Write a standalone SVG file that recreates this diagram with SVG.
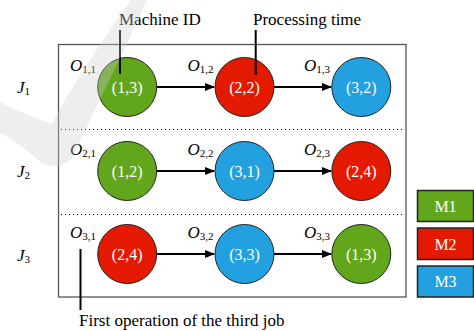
<svg xmlns="http://www.w3.org/2000/svg" width="474" height="331" viewBox="0 0 474 331">
<defs>
<marker id="ah" markerWidth="10" markerHeight="8" refX="9" refY="4" orient="auto" markerUnits="userSpaceOnUse">
<path d="M0,0 L10,4 L0,8 Z" fill="#000"/>
</marker>
</defs>
<style>
text{font-family:"Liberation Serif",Tinos,"DejaVu Serif",serif;}
.lbl{font-size:17px;fill:#000;}
.ct{font-size:16px;fill:#fff;text-anchor:middle;}
.it{font-style:italic;font-size:17px;fill:#000;}
.sub{font-style:normal;font-size:11px;}
.g{fill:#62a71b;stroke:#222;stroke-width:1;}
.r{fill:#e41a00;stroke:#222;stroke-width:1;}
.b{fill:#22a0e0;stroke:#222;stroke-width:1;}
.arr{stroke:#000;stroke-width:2;fill:none;}
.dot{stroke:#000;stroke-width:1;stroke-dasharray:1 3;fill:none;}
.call{stroke:#000;stroke-width:2;fill:none;}
.lg{stroke:#222;stroke-width:1.5;}
</style>
<rect width="474" height="331" fill="#fff"/>
<g id="frame">
<rect x="58.5" y="44.5" width="347.5" height="252.5" fill="none" stroke="#555" stroke-width="1.3"/>
<line class="dot" x1="61" y1="129.5" x2="404" y2="129.5"/>
<line class="dot" x1="61" y1="214.5" x2="404" y2="214.5"/>
</g>
<g id="jobs">
<text class="it" x="17" y="93">J<tspan class="sub" dy="2">1</tspan></text>
<text class="it" x="17" y="177">J<tspan class="sub" dy="2">2</tspan></text>
<text class="it" x="17" y="261">J<tspan class="sub" dy="2">3</tspan></text>
</g>
<g id="connectors">
<line class="arr" x1="157" y1="87" x2="214" y2="87" marker-end="url(#ah)"/>
<line class="arr" x1="274" y1="87" x2="331" y2="87" marker-end="url(#ah)"/>
<line class="arr" x1="157" y1="171" x2="214" y2="171" marker-end="url(#ah)"/>
<line class="arr" x1="274" y1="171" x2="331" y2="171" marker-end="url(#ah)"/>
<line class="arr" x1="157" y1="254" x2="214" y2="254" marker-end="url(#ah)"/>
<line class="arr" x1="274" y1="254" x2="331" y2="254" marker-end="url(#ah)"/>
</g>
<g id="O11"><circle class="g" cx="127.2" cy="87" r="29.5"/><text class="ct" x="127.2" y="92.5">(1,3)</text><text class="it" x="70" y="71">O<tspan class="sub" dy="2">1,1</tspan></text></g>
<g id="O12"><circle class="r" cx="244.5" cy="87" r="29.5"/><text class="ct" x="244.5" y="92.5">(2,2)</text><text class="it" x="187.5" y="71">O<tspan class="sub" dy="2">1,2</tspan></text></g>
<g id="O13"><circle class="b" cx="361.3" cy="87" r="29.5"/><text class="ct" x="361.3" y="92.5">(3,2)</text><text class="it" x="304" y="71">O<tspan class="sub" dy="2">1,3</tspan></text></g>
<g id="O21"><circle class="g" cx="127.2" cy="171" r="29.5"/><text class="ct" x="127.2" y="176.5">(1,2)</text><text class="it" x="70" y="155">O<tspan class="sub" dy="2">2,1</tspan></text></g>
<g id="O22"><circle class="b" cx="244.5" cy="171" r="29.5"/><text class="ct" x="244.5" y="176.5">(3,1)</text><text class="it" x="187.5" y="155">O<tspan class="sub" dy="2">2,2</tspan></text></g>
<g id="O23"><circle class="r" cx="361.3" cy="171" r="29.5"/><text class="ct" x="361.3" y="176.5">(2,4)</text><text class="it" x="304" y="155">O<tspan class="sub" dy="2">2,3</tspan></text></g>
<g id="O31"><circle class="r" cx="127.2" cy="254" r="29.5"/><text class="ct" x="127.2" y="259.5">(2,4)</text><text class="it" x="70" y="238">O<tspan class="sub" dy="2">3,1</tspan></text></g>
<g id="O32"><circle class="b" cx="244.5" cy="254" r="29.5"/><text class="ct" x="244.5" y="259.5">(3,3)</text><text class="it" x="187.5" y="238">O<tspan class="sub" dy="2">3,2</tspan></text></g>
<g id="O33"><circle class="g" cx="361.3" cy="254" r="29.5"/><text class="ct" x="361.3" y="259.5">(1,3)</text><text class="it" x="304" y="238">O<tspan class="sub" dy="2">3,3</tspan></text></g>
<g id="callouts">
<line class="call" x1="120" y1="30" x2="120" y2="74"/>
<text class="lbl" x="119" y="25">Machine ID</text>
<line class="call" x1="255.7" y1="30" x2="255.7" y2="75"/>
<text class="lbl" x="253" y="25">Processing time</text>
<line class="call" x1="80.5" y1="249" x2="80.5" y2="310"/>
<text class="lbl" x="79" y="326">First operation of the third job</text>
</g>
<g id="legend">
<g id="M1"><rect class="lg" x="417.5" y="190.5" width="56" height="31" fill="#62a71b"/><text class="ct" x="445.5" y="211.5">M1</text></g>
<g id="M2"><rect class="lg" x="417.5" y="228" width="56" height="31.5" fill="#e41a00"/><text class="ct" x="445.5" y="249.5">M2</text></g>
<g id="M3"><rect class="lg" x="417.5" y="266" width="56" height="31" fill="#22a0e0"/><text class="ct" x="445.5" y="287">M3</text></g>
</g>
<path id="watermark" d="M131 0 L147 0 C127 45 102 95 72 158 C62 168 48 168 38 160 C27 150 14 140 0 133 L0 102 C15 110 35 118 52 124 C72 85 106 35 131 0 Z" fill="#cfcfcf" fill-opacity="0.35"/>
</svg>
